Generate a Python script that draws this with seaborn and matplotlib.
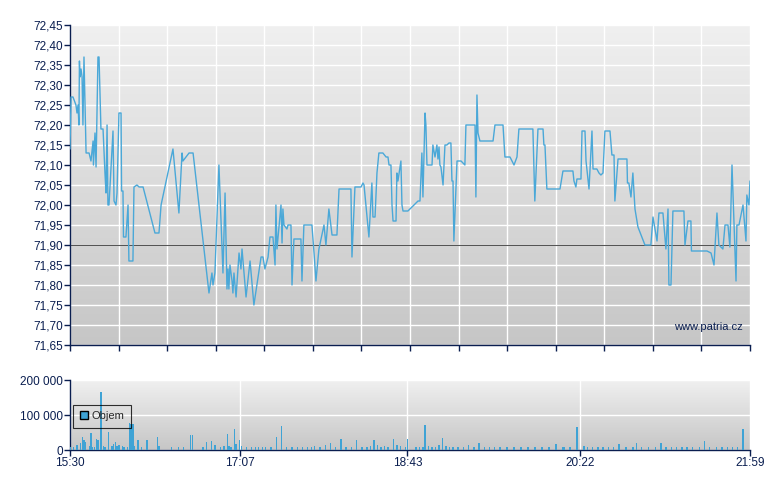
import numpy as np
import pandas as pd
import matplotlib
matplotlib.use("Agg")
import matplotlib.pyplot as plt
import seaborn as sns
from matplotlib.patches import Patch

sns.set_theme(style="white")
plt.rcParams['font.family'] = ['Liberation Sans', 'DejaVu Sans']

# minutes after 15:30
price_min = [0, 0.6, 1.7, 3.4, 4.0, 4.6, 5.1, 5.4, 5.7, 6.3, 6.9, 7.4, 8.0, 9.2, 10.9, 12.0, 13.2, 13.4, 14.3, 14.9,
             16.0, 16.6, 17.7, 18.9, 20.0, 20.6, 21.2, 21.7, 22.3, 24.6, 25.2, 26.3, 26.9, 28.0, 29.2, 29.5, 30.3, 30.6,
             32.0, 33.2, 33.7, 36.0, 36.6, 38.3, 39.5, 41.8, 48.6, 50.9, 52.1, 58.9, 62.3, 64.1, 64.6, 68.1, 70.4,
             79.5, 81.2, 81.8, 82.9, 85.2, 87.5, 88.7, 89.8, 90.4, 90.9, 91.5, 92.7, 93.2, 93.8, 95.0, 96.7, 97.8, 98.4,
             100.7, 103.0, 105.2, 109.3, 110.4, 111.5, 113.3, 114.4, 116.1, 117.3, 117.8, 118.4, 120.7, 121.3, 121.8,
             122.4, 124.1, 124.7, 126.4, 127.0, 128.1, 132.1, 132.7, 133.8, 138.4, 139.6, 140.7, 142.4, 145.3, 146.4,
             148.1, 149.9, 152.7, 153.9, 160.7, 161.3, 163.0, 166.5, 167.6, 168.2, 171.0, 172.7, 173.3, 174.5, 175.6,
             176.7, 179.0, 180.8, 181.9, 182.5, 183.6, 184.2, 184.8, 186.5, 187.0, 187.6, 189.3, 189.9, 190.5, 193.3,
             199.1, 200.2, 201.3, 201.9, 203.1, 203.6, 204.2, 207.1, 207.6, 208.8, 209.9, 210.5, 211.1, 211.6, 212.2,
             213.4, 214.5, 215.6, 216.8, 217.9, 218.5, 219.1, 219.6, 221.4, 223.7, 225.9, 226.5, 231.7, 232.2, 232.8,
             233.4, 234.5, 242.0, 243.1, 247.7, 248.8, 251.7, 254.0, 255.7, 256.8, 264.8, 265.9, 267.7, 270.6, 271.1,
             271.7, 272.8, 280.3, 282.0, 287.7, 288.3, 289.4, 290.0, 292.3, 292.9, 294.6, 295.2, 296.9, 298.6, 299.2,
             301.4, 302.6, 303.7, 304.9, 306.0, 308.9, 310.0, 311.2, 311.7, 313.5, 318.6, 318.9, 319.7, 320.9, 322.0,
             323.2, 324.9, 328.9, 332.3, 333.5, 335.8, 336.9, 339.2, 340.9, 342.1, 342.6, 343.8, 344.9, 351.2, 351.8,
             353.5, 355.2, 355.5, 364.4, 366.7, 368.4, 370.1, 371.2, 373.5, 374.7, 376.4, 377.5, 378.7, 381.0, 381.5,
             382.7, 385.0, 386.7, 387.2, 388.4, 389.0]
price_val = [72.14, 72.27, 72.27, 72.25, 72.23, 72.25, 72.20, 72.36, 72.32, 72.34, 72.32, 72.20, 72.37, 72.13, 72.13,
             72.11, 72.16, 72.10, 72.18, 72.095, 72.37, 72.37, 72.19, 72.19, 72.08, 72.03, 72.20, 72.00, 72.00, 72.185,
             72.01, 72.00, 72.03, 72.23, 72.23, 72.035, 72.035, 71.92, 71.92, 72.00, 71.86, 71.86, 72.045, 72.05, 72.045,
             72.045, 71.93, 71.93, 72.00, 72.14, 71.98, 72.13, 72.11, 72.13, 72.13,
             71.78, 71.83, 71.80, 71.83, 72.10, 71.83, 72.03, 71.79, 71.84, 71.79, 71.85, 71.81, 71.78, 71.83, 71.77,
             71.88, 71.84, 71.89, 71.77, 71.86, 71.75, 71.87, 71.87, 71.84, 71.87, 71.92, 71.92, 71.85, 72.00, 71.89,
             72.00, 71.905, 71.99, 71.95, 71.94, 71.95, 71.95, 71.80, 71.915, 71.915, 71.81, 71.95, 71.95, 71.88, 71.81,
             71.89, 71.95, 71.90, 71.99, 71.925, 71.925, 72.04, 72.04, 71.87, 72.045, 72.045, 72.055, 72.05, 71.92,
             72.055, 71.97, 71.97, 72.08, 72.13, 72.13, 72.12, 72.12, 72.10, 72.10, 72.00, 71.96, 71.96, 72.08, 72.06,
             72.11, 72.00, 71.985, 71.985, 72.01, 72.01, 72.13, 72.02, 72.23, 72.20, 72.10, 72.10, 72.15, 72.12, 72.15,
             72.115, 72.145, 72.10, 72.095, 72.05, 72.15, 72.15, 72.155, 72.155, 72.06, 72.06, 71.91, 72.11, 72.11,
             72.10, 72.20, 72.20, 72.02, 72.275, 72.18, 72.16, 72.16, 72.20, 72.20, 72.12, 72.12, 72.10, 72.12, 72.19,
             72.19, 72.01, 72.19, 72.19, 72.15, 72.15, 72.04, 72.04, 72.085, 72.085, 72.06, 72.045, 72.065, 72.065,
             72.185, 72.185, 72.11, 72.04, 72.185, 72.09, 72.09, 72.08, 72.075, 72.08, 72.185, 72.185, 72.125, 72.125,
             72.01, 72.115, 72.115, 72.055, 72.055, 72.02, 72.08, 71.99, 71.945, 71.90, 71.90, 71.97, 71.91, 71.98,
             71.98, 71.89, 71.99, 71.80, 71.80, 71.985, 71.985, 71.90, 71.96, 71.96, 71.885, 71.885, 71.88, 71.85,
             71.98, 71.90, 71.89, 71.95, 71.95, 71.895, 72.10, 71.81, 71.95, 71.95, 72.00, 71.91, 72.025, 72.00, 72.06]

vol_min = [0, 2, 4, 6, 7, 8, 9, 11, 12, 13, 14, 15, 16, 17.7, 19, 20, 22, 24, 25, 26, 27, 28, 30, 31, 33, 34, 35, 36,
           37, 39, 41, 44, 50, 51, 58, 62, 65, 69, 70, 76, 78, 81, 83, 86, 88, 90, 91, 92, 94, 95, 97, 98, 101, 104,
           106, 108, 110, 112, 115, 118, 121, 124, 127, 130, 133, 136, 138, 140, 143, 146, 149, 152, 155, 158, 161,
           164, 167, 170, 172, 174, 176, 178, 180, 182, 185, 187, 189, 192, 193, 198, 200, 202, 203, 205, 207, 209,
           211, 213, 215, 217, 219, 222, 225, 228, 231, 234, 237, 240, 243, 246, 250, 254, 258, 262, 266, 270, 274,
           278, 282, 283, 286, 290, 294, 296, 299, 302, 305, 308, 311, 314, 318, 322, 324, 327, 331, 335, 338, 341,
           344, 347, 350, 353, 356, 360, 363, 366, 370, 373, 376, 379, 382, 385, 388]
vol_val = [8000, 8000, 15000, 20000, 37000, 28000, 22000, 12000, 48000, 10000, 9000, 32000, 30000, 165000, 12000,
           9000, 52000, 12000, 18000, 23000, 12000, 13000, 11000, 9000, 8000, 78000, 75000, 75000, 12000, 28000, 9000,
           28000, 38000, 12000, 10000, 8000, 8000, 44000, 44000, 8000, 22000, 25000, 14000, 9000, 11000, 45000, 12000,
           9000, 60000, 18000, 30000, 12000, 9000, 10000, 8000, 10000, 9000, 9000, 10000, 38000, 70000, 9000, 8000,
           10000, 9000, 8000, 10000, 12000, 9000, 14000, 20000, 9000, 32000, 10000, 9000, 28000, 10000, 9000, 12000,
           30000, 14000, 10000, 12000, 9000, 32000, 14000, 12000, 10000, 32000, 8000, 10000, 9000, 72000, 12000, 10000,
           9000, 14000, 35000, 12000, 10000, 8000, 9000, 8000, 14000, 10000, 20000, 9000, 8000, 9000, 8000, 10000, 8000,
           9000, 8000, 8000, 9000, 8000, 18000, 8000, 8000, 9000, 65000, 12000, 10000, 8000, 9000, 8000,
           9000, 8000, 18000, 9000, 8000, 20000, 9000, 10000, 8000, 20000, 9000, 8000, 9000, 8000, 9000, 10000, 9000,
           25000, 9000, 10000, 8000, 9000, 10000, 9000, 60000]

time_ticks = [0, 97, 193, 292, 389]
time_labels = ["15:30", "17:07", "18:43", "20:22", "21:59"]
price_ticks = [71.65, 71.70, 71.75, 71.80, 71.85, 71.90, 71.95, 72.00, 72.05, 72.10, 72.15, 72.20, 72.25, 72.30,
               72.35, 72.40, 72.45]
vol_ticks = [0, 100000, 200000]
vol_labels = ["0", "100 000", "200 000"]
ref_price = 71.90

navy = "#0a1e50"
line_c = "#4aa8d8"

n = min(len(price_min), len(price_val))
nv = min(len(vol_min), len(vol_val))

fig = plt.figure(figsize=(7.8, 4.9), dpi=100)
ax = fig.add_axes([70/780, 1-345/490, 680/780, 320/490])
axv = fig.add_axes([70/780, 1-450/490, 680/780, 70/490])

cmap = matplotlib.colors.LinearSegmentedColormap.from_list("g", ["#f0f0f0", "#c6c6c6"])
def bg(a, ymin, ymax):
    grad = np.linspace(0, 1, 256).reshape(-1, 1)
    a.imshow(grad, extent=[0, 389, ymin, ymax], aspect="auto", cmap=cmap, origin="upper", zorder=0)

bg(ax, 71.65, 72.45)
df = pd.DataFrame({"t": price_min[:n], "p": price_val[:n]})
sns.lineplot(data=df, x="t", y="p", ax=ax, color=line_c, lw=1.0, sort=False, estimator=None, zorder=3)
ax.axhline(ref_price, color="#555555", lw=0.8, zorder=2)
ax.set_xlim(0, 389)
ax.set_ylim(71.65, 72.45)
ax.set_yticks(price_ticks)
ax.set_yticklabels([f"{v:.2f}".replace(".", ",") for v in price_ticks])
xt = np.linspace(0, 389, 15)
ax.set_xticks(xt)
ax.set_xticklabels([])
ax.set_xlabel("")
ax.set_ylabel("")
for y in price_ticks:
    ax.axhline(y, color="white", lw=1, zorder=1)
for x in xt:
    ax.axvline(x, color="white", lw=1, zorder=1)
ax.text(0.99, 0.055, "www.patria.cz", transform=ax.transAxes, ha="right", va="center", color=navy, fontsize=8)

bg(axv, 0, 200000)
axv.bar(vol_min[:nv], vol_val[:nv], width=0.8, color="#3fa3d5", edgecolor="none", linewidth=0, zorder=3)
axv.set_xlim(0, 389)
axv.set_ylim(0, 200000)
axv.set_yticks(vol_ticks)
axv.set_yticklabels(vol_labels)
axv.set_xticks(time_ticks)
axv.set_xticklabels(time_labels)
for y in vol_ticks:
    axv.axhline(y, color="white", lw=1, zorder=1)
for x in time_ticks:
    axv.axvline(x, color="white", lw=1, zorder=1)
leg = axv.legend(handles=[Patch(facecolor="#3fa3d5", edgecolor="black", label="Objem")], loc="upper left",
                 bbox_to_anchor=(0.005, 0.65), frameon=True, fancybox=False, fontsize=8, handlelength=0.7,
                 handleheight=0.7, borderpad=0.6, handletextpad=0.3, borderaxespad=0)
leg.get_frame().set_edgecolor("black")
leg.get_frame().set_facecolor("none")
leg.get_frame().set_linewidth(0.8)

for a in (ax, axv):
    for s in ("top", "right"):
        a.spines[s].set_visible(False)
    for s in ("left", "bottom"):
        a.spines[s].set_color(navy)
        a.spines[s].set_linewidth(1)
    a.tick_params(axis="both", colors=navy, labelcolor=navy, labelsize=8.5, length=4, width=1, direction="out",
                  left=True, bottom=True, pad=1)

fig.savefig("out.png", dpi=100, facecolor="white")
